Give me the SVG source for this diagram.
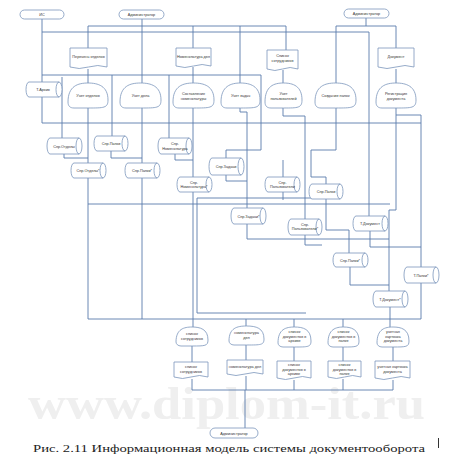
<svg xmlns="http://www.w3.org/2000/svg" width="459" height="460" viewBox="0 0 459 460">
<style>
.n{fill:#fff;stroke:#7b96bb;stroke-width:0.8}
.t{font-family:"Liberation Sans",Arial,sans-serif;font-size:3.8px;fill:#333;text-anchor:middle}
.c path,.c polyline{fill:none;stroke:#5a7cab;stroke-width:0.9}
.wm{font-family:"Liberation Serif",serif;font-weight:bold;font-size:47px;fill:#efefef}
.cap{font-family:"Liberation Serif","Times New Roman",serif;font-size:11px;fill:#222}
</style>
<rect width="459" height="460" fill="#fff"/>
<text class="wm" x="28" y="419" textLength="397" lengthAdjust="spacingAndGlyphs">www.diplom-it.ru</text>
<g class="c" id="connectors">
<polyline points="42,18 42,82"/>
<polyline points="42,97 42,123 421,123"/>
<polyline points="42,32 369,32 369,216"/>
<polyline points="142,18 142,83"/>
<polyline points="88,48 88,26 286,26 286,50"/>
<polyline points="193,26 193,48"/>
<polyline points="240,26 240,83"/>
<polyline points="366,18 366,26"/>
<polyline points="336,83 336,26 396,26 396,48"/>
<polyline points="88,69 88,83"/>
<polyline points="193,67 193,83"/>
<polyline points="283,70 283,83"/>
<polyline points="396,69 396,83"/>
<polyline points="42,75 261,75"/>
<polyline points="62,77 62,138"/>
<polyline points="112,75 112,136"/>
<polyline points="169,75 169,138"/>
<polyline points="261,75 261,150 226,150 226,158"/>
<polyline points="88,108 88,163"/>
<polyline points="64,154 64,158 88,158"/>
<polyline points="88,178 88,319"/>
<polyline points="142,108 142,163"/>
<polyline points="111,151 111,158 142,158"/>
<polyline points="142,178 142,319"/>
<polyline points="88,204 390,204"/>
<polyline points="193,108 193,177"/>
<polyline points="175,154 175,160 193,160"/>
<polyline points="193,192 193,327"/>
<polyline points="197,198 330,198"/>
<polyline points="197,198 197,313 306,313"/>
<polyline points="240,108 240,112 247,112 247,208"/>
<polyline points="226,175 226,181 247,181"/>
<polyline points="247,224 247,239 389,239"/>
<polyline points="283,108 283,116 305,116 305,219"/>
<polyline points="283,160 283,177"/>
<polyline points="283,192 283,200"/>
<polyline points="305,235 305,245 322,245"/>
<polyline points="336,108 336,150 311,150 311,177 326,177 326,184"/>
<polyline points="326,199 326,230 349,230 349,253"/>
<polyline points="396,108 396,115 421,115 421,267"/>
<polyline points="396,115 396,210 389,210 389,291"/>
<polyline points="370,231 370,247 421,247"/>
<polyline points="350,267 350,285 389,285"/>
<polyline points="390,307 390,327"/>
<polyline points="421,283 421,319 88,319"/>
<polyline points="246,319 246,326"/>
<polyline points="294,319 294,327"/>
<polyline points="343,319 343,327"/>
<polyline points="192,346 192,362"/>
<polyline points="246,345 246,360"/>
<polyline points="294,347 294,361"/>
<polyline points="343,347 343,361"/>
<polyline points="393,347 393,361"/>
<polyline points="192,379 192,390 393,390 393,380"/>
<polyline points="246,376 246,390"/>
<polyline points="294,380 294,390"/>
<polyline points="343,379 343,390"/>
<polyline points="245,390 245,428"/>
</g>
<g id="is"><rect class="n" x="20" y="10" width="44" height="9" rx="4.5"/><text class="t" x="42" y="16">ИС</text></g>
<g id="adm1"><rect class="n" x="119" y="10" width="45" height="9" rx="4.5"/><text class="t" x="141.5" y="16">Администратор</text></g>
<g id="adm2"><rect class="n" x="344" y="9" width="45" height="9" rx="4.5"/><text class="t" x="366.5" y="15">Администратор</text></g>
<g id="adm3"><rect class="n" x="210" y="428" width="48" height="10" rx="5"/><text class="t" x="234" y="434.5">Администратор</text></g>

<g id="d_otd"><path class="n" d="M70,48H107V67Q97.8,64 88.5,67T70,67Z"/><text class="t" x="88.5" y="58">Перечень отделов</text></g>
<g id="d_nom"><path class="n" d="M176,48H211V66Q202,63 193.5,66T176,66Z"/><text class="t" x="193.5" y="58">Номенклатура дел</text></g>
<g id="d_sotr"><path class="n" d="M267,50H298V69Q290,66 282.5,69T267,69Z"/><text class="t" x="282.5" y="57">Список</text><text class="t" x="282.5" y="61.5">сотрудников</text></g>
<g id="d_doc"><path class="n" d="M378,48H414V67Q405,64 396,67T378,67Z"/><text class="t" x="396" y="58">Документ</text></g>

<g id="p_otd"><path class="n" d="M68,102C68,86 78,83 88,83C98,83 108,86 108,100C108,108 104,108 88,108L74,108C70,108 68,106 68,102Z"/><text class="t" x="88" y="97">Учет отделов</text></g>
<g id="p_del"><path class="n" d="M120,102C120,86 130,83 140.5,83C151,83 161,86 161,100C161,108 157,108 140.5,108L126,108C122,108 120,106 120,102Z"/><text class="t" x="140.5" y="97">Учет дела</text></g>
<g id="p_nom"><path class="n" d="M173,102C173,86 183,83 193.5,83C204,83 214,86 214,100C214,108 210,108 193.5,108L179,108C175,108 173,106 173,102Z"/><text class="t" x="193.5" y="95">Составление</text><text class="t" x="193.5" y="99.5">номенклатуры</text></g>
<g id="p_zad"><path class="n" d="M221,102C221,86 231,83 240.5,83C250,83 260,86 260,100C260,108 256,108 240.5,108L227,108C223,108 221,106 221,102Z"/><text class="t" x="240.5" y="97">Учет задач</text></g>
<g id="p_pol"><path class="n" d="M265,102C265,86 274,83 283.5,83C293,83 302,86 302,100C302,108 298,108 283.5,108L271,108C267,108 265,106 265,102Z"/><text class="t" x="283.5" y="95">Учет</text><text class="t" x="283.5" y="99.5">пользователей</text></g>
<g id="p_pap"><path class="n" d="M315,102C315,86 325,83 335.5,83C346,83 356,86 356,100C356,108 352,108 335.5,108L321,108C317,108 315,106 315,102Z"/><text class="t" x="335.5" y="97">Создание папок</text></g>
<g id="p_reg"><path class="n" d="M376,102C376,86 386,83 396,83C406,83 416,86 416,100C416,108 412,108 396,108L382,108C378,108 376,106 376,102Z"/><text class="t" x="396" y="95">Регистрация</text><text class="t" x="396" y="99.5">документа</text></g>

<g id="c_arh"><path class="n" d="M29,82H59A3,7.5 0 0 1 59,97H29A3,7.5 0 0 1 29,82ZM59,82A3,7.5 0 0 0 59,97"/><text class="t" x="43" y="91">Т.Архив</text></g>
<g id="c_otd"><path class="n" d="M50,138H79A3,8 0 0 1 79,154H50A3,8 0 0 1 50,138ZM79,138A3,8 0 0 0 79,154"/><text class="t" x="64" y="147.5">Спр.Отделы</text></g>
<g id="c_pap"><path class="n" d="M97,136H125A3,7.5 0 0 1 125,151H97A3,7.5 0 0 1 97,136ZM125,136A3,7.5 0 0 0 125,151"/><text class="t" x="111" y="145">Спр.Папки</text></g>
<g id="c_otd2"><path class="n" d="M74,163H103A3,7.5 0 0 1 103,178H74A3,7.5 0 0 1 74,163ZM103,163A3,7.5 0 0 0 103,178"/><text class="t" x="88" y="172">Спр.Отделы*</text></g>
<g id="c_pap2"><path class="n" d="M128,163H157A3,7.5 0 0 1 157,178H128A3,7.5 0 0 1 128,163ZM157,163A3,7.5 0 0 0 157,178"/><text class="t" x="142" y="172">Спр.Папки*</text></g>
<g id="c_nom"><path class="n" d="M161,138H189A3,8 0 0 1 189,154H161A3,8 0 0 1 161,138ZM189,138A3,8 0 0 0 189,154"/><text class="t" x="175" y="145">Спр.</text><text class="t" x="175" y="149.5">Номенклатура</text></g>
<g id="c_zad"><path class="n" d="M212,158H241A3,8.5 0 0 1 241,175H212A3,8.5 0 0 1 212,158ZM241,158A3,8.5 0 0 0 241,175"/><text class="t" x="226" y="168">Спр.Задачи</text></g>
<g id="c_nom2"><path class="n" d="M180,177H209A3,7.5 0 0 1 209,192H180A3,7.5 0 0 1 180,177ZM209,177A3,7.5 0 0 0 209,192"/><text class="t" x="194" y="183.5">Спр.</text><text class="t" x="194" y="188">Номенклатура*</text></g>
<g id="c_pol"><path class="n" d="M268,177H297A3,7.5 0 0 1 297,192H268A3,7.5 0 0 1 268,177ZM297,177A3,7.5 0 0 0 297,192"/><text class="t" x="282.5" y="183.5">Спр.</text><text class="t" x="282.5" y="188">Пользователи</text></g>
<g id="c_pap3"><path class="n" d="M312,184H340A3,7.5 0 0 1 340,199H312A3,7.5 0 0 1 312,184ZM340,184A3,7.5 0 0 0 340,199"/><text class="t" x="326" y="193">Спр.Папки</text></g>
<g id="c_zad2"><path class="n" d="M234,208H263A3,8 0 0 1 263,224H234A3,8 0 0 1 234,208ZM263,208A3,8 0 0 0 263,224"/><text class="t" x="248.5" y="217.5">Спр.Задачи*</text></g>
<g id="c_pol2"><path class="n" d="M291,219H319A3,8 0 0 1 319,235H291A3,8 0 0 1 291,219ZM319,219A3,8 0 0 0 319,235"/><text class="t" x="305" y="225.5">Спр.</text><text class="t" x="305" y="230">Пользователи*</text></g>
<g id="c_doc"><path class="n" d="M356,216H385A3,7.5 0 0 1 385,231H356A3,7.5 0 0 1 356,216ZM385,216A3,7.5 0 0 0 385,231"/><text class="t" x="370" y="225">Т.Документ</text></g>
<g id="c_pap4"><path class="n" d="M336,253H365A3,7 0 0 1 365,267H336A3,7 0 0 1 336,253ZM365,253A3,7 0 0 0 365,267"/><text class="t" x="350" y="261.5">Спр.Папки*</text></g>
<g id="c_tpap"><path class="n" d="M407,267H436A3,8 0 0 1 436,283H407A3,8 0 0 1 407,267ZM436,267A3,8 0 0 0 436,283"/><text class="t" x="421" y="276.5">Т.Папки*</text></g>
<g id="c_doc2"><path class="n" d="M376,291H405A3,8 0 0 1 405,307H376A3,8 0 0 1 376,291ZM405,291A3,8 0 0 0 405,307"/><text class="t" x="390" y="300.5">Т.Документ*</text></g>

<g id="bp_sotr"><path class="n" d="M176,342C176,329 184,327 192,327C200,327 208,329 208,340C208,346 205,346 192,346L181,346C178,346 176,344 176,342Z"/><text class="t" x="192" y="335">список</text><text class="t" x="192" y="339.5">сотрудников</text></g>
<g id="bp_nom"><path class="n" d="M229,341C229,328 237,326 246.5,326C256,326 264,328 264,339C264,345 261,345 246.5,345L234,345C231,345 229,343 229,341Z"/><text class="t" x="246.5" y="334">номенклатура</text><text class="t" x="246.5" y="338.5">дел</text></g>
<g id="bp_arh"><path class="n" d="M278,343C278,329 286,327 294.5,327C303,327 311,329 311,341C311,347 308,347 294.5,347L283,347C280,347 278,345 278,343Z"/><text class="t" x="294.5" y="333">список</text><text class="t" x="294.5" y="337.5">документов в</text><text class="t" x="294.5" y="342">архиве</text></g>
<g id="bp_pap"><path class="n" d="M328,343C328,329 336,327 343.5,327C351,327 359,329 359,341C359,347 356,347 343.5,347L333,347C330,347 328,345 328,343Z"/><text class="t" x="343.5" y="333">список</text><text class="t" x="343.5" y="337.5">документов в</text><text class="t" x="343.5" y="342">папке</text></g>
<g id="bp_kart"><path class="n" d="M377,343C377,329 385,327 393,327C401,327 409,329 409,341C409,347 406,347 393,347L382,347C379,347 377,345 377,343Z"/><text class="t" x="393" y="333">учетная</text><text class="t" x="393" y="337.5">карточка</text><text class="t" x="393" y="342">документа</text></g>

<g id="bd_sotr"><path class="n" d="M174,362H208V377Q199.5,374 191,377T174,377Z"/><text class="t" x="191" y="368">список</text><text class="t" x="191" y="372.5">сотрудников</text></g>
<g id="bd_nom"><path class="n" d="M227,360H263V374Q254,371 245,374T227,374Z"/><text class="t" x="245" y="368">номенклатура дел</text></g>
<g id="bd_arh"><path class="n" d="M277,361H311V378Q302.5,375 294,378T277,378Z"/><text class="t" x="294" y="366">список</text><text class="t" x="294" y="370.5">документов в</text><text class="t" x="294" y="375">архиве</text></g>
<g id="bd_pap"><path class="n" d="M328,361H361V377Q352.5,374 344.5,377T328,377Z"/><text class="t" x="344.5" y="366">список</text><text class="t" x="344.5" y="370.5">документов в</text><text class="t" x="344.5" y="375">папке</text></g>
<g id="bd_kart"><path class="n" d="M375,361H410V378Q401,375 392.5,378T375,378Z"/><text class="t" x="392.5" y="368">учетная карточка</text><text class="t" x="392.5" y="372.5">документа</text></g>

<text class="cap" x="33" y="452" textLength="392" lengthAdjust="spacingAndGlyphs">Рис. 2.11 Информационная модель системы документооборота</text>
<path d="M438.5,438V448" stroke="#000" stroke-width="0.8"/>
</svg>
